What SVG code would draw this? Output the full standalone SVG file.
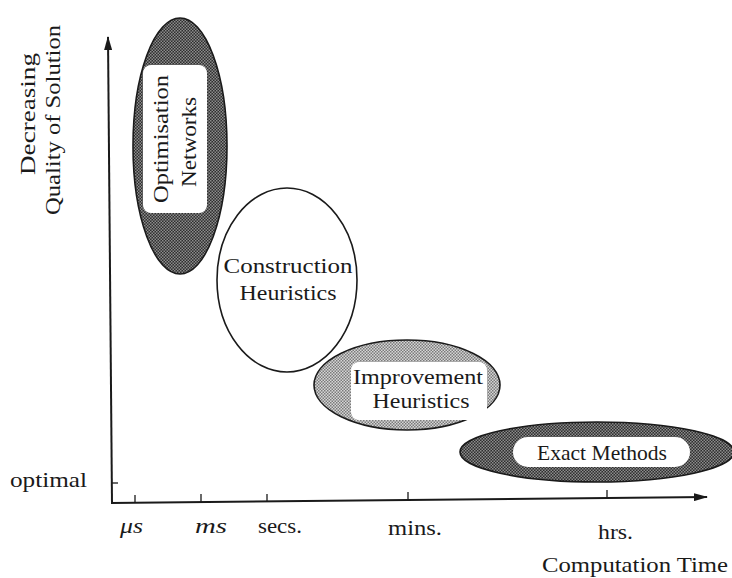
<svg xmlns="http://www.w3.org/2000/svg" width="732" height="578" viewBox="0 0 732 578">
  <style>
    text { font-family: "Liberation Serif", "DejaVu Serif", serif; fill: #1a1a1a; }
    .lbl { font-size: 21px; text-anchor: middle; }
    .tick { font-size: 21px; }
    .it { font-style: italic; }
    .axis { stroke: #1a1a1a; stroke-width: 2; fill: none; }
    .tk { stroke: #1a1a1a; stroke-width: 1.3; }
    .blob { stroke: #1a1a1a; stroke-width: 1.6; }
    .inner { fill: #ffffff; stroke: none; }
  </style>
  <defs>
    <!-- coarse screen tones for the shaded regions -->
    <pattern id="dark" width="3" height="3" patternUnits="userSpaceOnUse">
      <rect width="3" height="3" fill="#2e2e2e"/>
      <rect x="0" y="0" width="1.5" height="1.5" fill="#8c8c8c"/>
      <rect x="1.5" y="1.5" width="1.5" height="1.5" fill="#8c8c8c"/>
    </pattern>
    <pattern id="light" width="3" height="3" patternUnits="userSpaceOnUse">
      <rect width="3" height="3" fill="#d6d6d6"/>
      <rect x="0" y="0" width="1.5" height="1.5" fill="#7a7a7a"/>
      <rect x="1.5" y="1.5" width="1.5" height="1.5" fill="#7a7a7a"/>
    </pattern>
    <marker id="head" viewBox="0 0 14 8" refX="13" refY="4" markerWidth="14" markerHeight="8" markerUnits="userSpaceOnUse" orient="auto">
      <path d="M0,0 L14,4 L0,8 Z" fill="#1a1a1a"/>
    </marker>
  </defs>

  <!-- axes with tick marks -->
  <g id="axes">
    <line class="axis" x1="112" y1="504" x2="108" y2="37" marker-end="url(#head)"/>
    <line class="axis" x1="111" y1="503" x2="707" y2="497" marker-end="url(#head)"/>
    <line class="tk" x1="112" y1="483" x2="118" y2="483"/>
    <line class="tk" x1="135" y1="503" x2="135" y2="495"/>
    <line class="tk" x1="201" y1="502" x2="201" y2="494"/>
    <line class="tk" x1="267" y1="501" x2="267" y2="494"/>
    <line class="tk" x1="408" y1="500" x2="408" y2="492"/>
    <line class="tk" x1="607" y1="498" x2="607" y2="490"/>
  </g>

  <!-- axis labels -->
  <g id="labels">
    <text class="tick" x="10" y="487" textLength="77" lengthAdjust="spacingAndGlyphs">optimal</text>
    <text class="tick it" x="120" y="533" textLength="23" lengthAdjust="spacingAndGlyphs">μs</text>
    <text class="tick it" x="195" y="533" textLength="32" lengthAdjust="spacingAndGlyphs">ms</text>
    <text class="tick" x="258" y="533" textLength="44" lengthAdjust="spacingAndGlyphs">secs.</text>
    <text class="tick" x="388" y="535" textLength="54" lengthAdjust="spacingAndGlyphs">mins.</text>
    <text class="tick" x="598" y="539" textLength="35" lengthAdjust="spacingAndGlyphs">hrs.</text>
    <text class="tick" x="542" y="572" textLength="186" lengthAdjust="spacingAndGlyphs">Computation Time</text>
    <text class="tick" transform="translate(35,175) rotate(-90)" textLength="122" lengthAdjust="spacingAndGlyphs">Decreasing</text>
    <text class="tick" transform="translate(60,215) rotate(-90)" textLength="190" lengthAdjust="spacingAndGlyphs">Quality of Solution</text>
  </g>

  <g id="optimisation-networks">
    <ellipse class="blob" cx="180" cy="146" rx="47" ry="128" fill="url(#dark)"/>
    <rect class="inner" x="143" y="65" width="64" height="148" rx="8"/>
    <text class="lbl" transform="translate(168,139) rotate(-90)" textLength="128" lengthAdjust="spacingAndGlyphs">Optimisation</text>
    <text class="lbl" transform="translate(196,142) rotate(-90)" textLength="90" lengthAdjust="spacingAndGlyphs">Networks</text>
  </g>

  <g id="construction-heuristics">
    <ellipse class="blob" cx="287" cy="280" rx="70" ry="92" fill="#ffffff"/>
    <text class="lbl" x="288" y="273" textLength="129" lengthAdjust="spacingAndGlyphs">Construction</text>
    <text class="lbl" x="288" y="300" textLength="97" lengthAdjust="spacingAndGlyphs">Heuristics</text>
  </g>

  <g id="improvement-heuristics">
    <ellipse class="blob" cx="407" cy="385" rx="93" ry="45" fill="url(#light)"/>
    <rect class="inner" x="351" y="362" width="136" height="58" rx="8"/>
    <text class="lbl" x="418" y="384" textLength="130" lengthAdjust="spacingAndGlyphs">Improvement</text>
    <text class="lbl" x="421" y="408" textLength="97" lengthAdjust="spacingAndGlyphs">Heuristics</text>
  </g>

  <g id="exact-methods">
    <ellipse class="blob" cx="597" cy="452" rx="137" ry="30" fill="url(#dark)"/>
    <rect class="inner" x="513" y="437" width="177" height="30" rx="15"/>
    <text class="lbl" x="602" y="460" textLength="130" lengthAdjust="spacingAndGlyphs">Exact Methods</text>
  </g>
</svg>
